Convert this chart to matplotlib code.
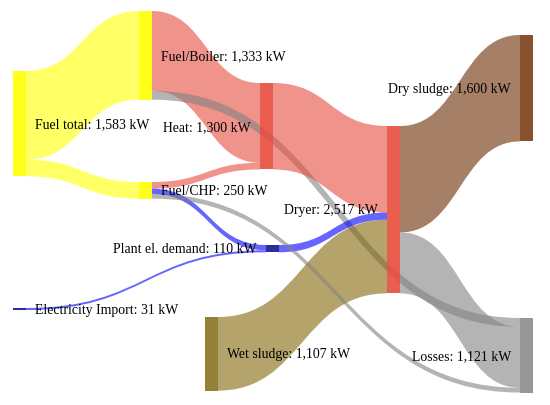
import matplotlib.pyplot as plt
from matplotlib.path import Path
from matplotlib.patches import PathPatch, Rectangle

# nodes and flows (kW)
nodes = ['Fuel total', 'Electricity Import', 'Fuel/Boiler', 'Fuel/CHP', 'Wet sludge',
         'Heat', 'Plant el. demand', 'Dryer', 'Dry sludge', 'Losses']
link_src = ['Fuel total', 'Fuel total', 'Fuel/Boiler', 'Fuel/Boiler', 'Fuel/CHP', 'Fuel/CHP',
            'Electricity Import', 'Heat', 'Plant el. demand', 'Wet sludge', 'Dryer', 'Dryer',
            'Fuel/CHP']
link_tgt = ['Fuel/Boiler', 'Fuel/CHP', 'Heat', 'Losses', 'Heat', 'Plant el. demand',
            'Plant el. demand', 'Dryer', 'Dryer', 'Dryer', 'Dry sludge', 'Losses', 'Losses']
link_val = [1333, 250, 1200, 133, 100, 79, 31, 1300, 110, 1107, 1600, 917, 71]

# layout (pixels): node left edge, node top, label side
node_x = {'Fuel total': 13, 'Electricity Import': 13, 'Fuel/Boiler': 139, 'Fuel/CHP': 139,
          'Wet sludge': 205, 'Heat': 260, 'Plant el. demand': 266, 'Dryer': 387,
          'Dry sludge': 520, 'Losses': 520}
node_y = {'Fuel total': 72, 'Electricity Import': 309, 'Fuel/Boiler': 12, 'Fuel/CHP': 183,
          'Wet sludge': 318, 'Heat': 84, 'Plant el. demand': 246, 'Dryer': 127,
          'Dry sludge': 36, 'Losses': 319}
label_right = {'Fuel total', 'Electricity Import', 'Fuel/Boiler', 'Fuel/CHP', 'Wet sludge'}

node_col = {'Fuel total': '#ffff00', 'Electricity Import': '#16168f', 'Fuel/Boiler': '#ffff00',
            'Fuel/CHP': '#ffff00', 'Wet sludge': '#8b7322', 'Heat': '#e74c3c',
            'Plant el. demand': '#16168f', 'Dryer': '#e74c3c', 'Dry sludge': '#7b3f18',
            'Losses': '#8c8c8c'}
# link colour by target (flows into Dryer coloured by source)
link_col = {'Fuel/Boiler': '#ffff00', 'Fuel/CHP': '#ffff00', 'Heat': '#e74c3c',
            'Dry sludge': '#6a2a00', 'Wet sludge': '#82670a', 'Plant el. demand': '#0000ff',
            'Losses': '#828282'}

W = 13
scale = 0.0665  # px per kW

node_val = {}
for n in nodes:
    vin = sum(v for s, t, v in zip(link_src, link_tgt, link_val) if t == n)
    vout = sum(v for s, t, v in zip(link_src, link_tgt, link_val) if s == n)
    node_val[n] = max(vin, vout)

fig = plt.figure(figsize=(5.5, 4.06), dpi=100)
ax = fig.add_axes([0, 0, 1, 1])
ax.set_xlim(0, 550)
ax.set_ylim(406, 0)
ax.axis('off')

out_off = {n: node_y[n] for n in nodes}
in_off = {n: node_y[n] for n in nodes}
for s, t, v in zip(link_src, link_tgt, link_val):
    h = v * scale
    x0 = node_x[s] + W
    x1 = node_x[t]
    y0, y1 = out_off[s], in_off[t]
    out_off[s] += h
    in_off[t] += h
    xm = (x0 + x1) / 2
    verts = [(x0, y0), (xm, y0), (xm, y1), (x1, y1), (x1, y1 + h),
             (xm, y1 + h), (xm, y0 + h), (x0, y0 + h), (x0, y0)]
    codes = [Path.MOVETO, Path.CURVE4, Path.CURVE4, Path.CURVE4, Path.LINETO,
             Path.CURVE4, Path.CURVE4, Path.CURVE4, Path.CLOSEPOLY]
    c = link_col[s] if t == 'Dryer' else link_col[t]
    ax.add_patch(PathPatch(Path(verts, codes), facecolor=c, edgecolor='none', alpha=0.6))

for n in nodes:
    h = node_val[n] * scale
    ax.add_patch(Rectangle((node_x[n], node_y[n]), W, h, facecolor=node_col[n],
                           edgecolor='none', alpha=0.9))
    lab = f'{n}: {node_val[n]:,} kW'
    yc = node_y[n] + h / 2
    if n in label_right:
        ax.text(node_x[n] + W + 9, yc, lab, ha='left', va='center',
                family='Liberation Serif', fontsize=9.9)
    else:
        ax.text(node_x[n] - 9, yc, lab, ha='right', va='center',
                family='Liberation Serif', fontsize=9.9)

fig.savefig('out.png', dpi=100)
